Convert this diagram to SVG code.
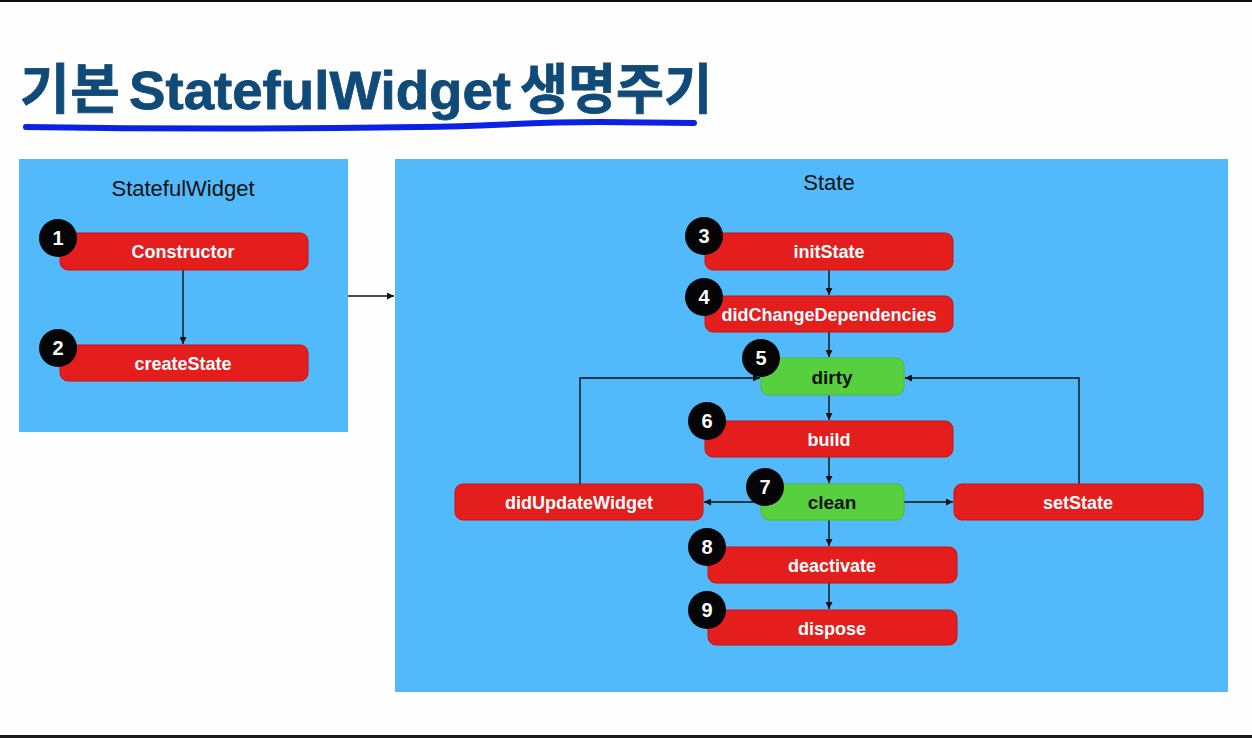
<svg xmlns="http://www.w3.org/2000/svg" width="1252" height="738" viewBox="0 0 1252 738">
<defs>
<style>
.panel{fill:#52b9fa}
.plabel{font-family:"Liberation Sans",Arial,sans-serif;font-size:22px;fill:#111;text-anchor:middle}
.red{fill:#e41d1d;stroke:#c81515;stroke-width:1}
.green{fill:#58cf3e;stroke:#4cb834;stroke-width:1}
.wt{font-family:"Liberation Sans",Arial,sans-serif;font-weight:bold;font-size:18px;fill:#fff;text-anchor:middle}
.bt{font-family:"Liberation Sans",Arial,sans-serif;font-weight:bold;font-size:19px;fill:#111;text-anchor:middle}
.badge{fill:#050505}
.num{font-family:"Liberation Sans",Arial,sans-serif;font-weight:bold;font-size:20px;fill:#fff;text-anchor:middle}
.con{fill:none;stroke:#111;stroke-width:1.4}
.title{font-family:"Liberation Sans","Noto Sans CJK KR",sans-serif;font-weight:bold;font-size:54px;fill:#104a78}
</style>
<marker id="ah" viewBox="0 0 10 10" refX="10" refY="5" markerWidth="7" markerHeight="7" markerUnits="userSpaceOnUse" orient="auto">
<path d="M0,0 L10,5 L0,10 z" fill="#111"/>
</marker>
</defs>
<rect x="0" y="0" width="1252" height="738" fill="#fefefe"/>
<rect x="0" y="0" width="1252" height="2" fill="#111"/>
<rect x="0" y="735" width="1252" height="3" fill="#1a1a1a"/>

<g id="title">
<text class="title" y="109" stroke="#104a78" stroke-width="0.8"><tspan x="20" font-family="'Noto Sans CJK KR',sans-serif" textLength="100">기본</tspan><tspan x="129" textLength="382" lengthAdjust="spacingAndGlyphs">StatefulWidget</tspan><tspan x="520" font-family="'Noto Sans CJK KR',sans-serif" textLength="192" lengthAdjust="spacingAndGlyphs">생명주기</tspan></text>
<path d="M26,127 C150,129 300,129 420,127 C500,126 520,122 600,122 L694,123" fill="none" stroke="#0b22e6" stroke-width="6" stroke-linecap="round"/>
</g>

<g id="panel-statefulwidget">
<rect class="panel" x="19" y="159" width="329" height="273"/>
<text class="plabel" x="183" y="196">StatefulWidget</text>
</g>
<g id="panel-state">
<rect class="panel" x="395" y="159" width="833" height="533"/>
<text class="plabel" x="829" y="190">State</text>
</g>

<g id="connectors">
<line class="con" x1="183" y1="270" x2="183" y2="344" marker-end="url(#ah)"/>
<line class="con" x1="348" y1="296" x2="394" y2="296" marker-end="url(#ah)"/>
<line class="con" x1="829" y1="270" x2="829" y2="295" marker-end="url(#ah)"/>
<line class="con" x1="829" y1="332" x2="829" y2="357" marker-end="url(#ah)"/>
<line class="con" x1="829" y1="395" x2="829" y2="420" marker-end="url(#ah)"/>
<line class="con" x1="829" y1="457" x2="829" y2="483" marker-end="url(#ah)"/>
<line class="con" x1="761" y1="502" x2="704" y2="502" marker-end="url(#ah)"/>
<line class="con" x1="904" y1="502" x2="953" y2="502" marker-end="url(#ah)"/>
<polyline class="con" points="580,484 580,378 760,378" marker-end="url(#ah)"/>
<polyline class="con" points="1079,484 1079,378 905,378" marker-end="url(#ah)"/>
<line class="con" x1="829" y1="520" x2="829" y2="546" marker-end="url(#ah)"/>
<line class="con" x1="829" y1="583" x2="829" y2="609" marker-end="url(#ah)"/>
</g>

<g id="node-constructor">
<rect class="red" x="60" y="233" width="248" height="37" rx="8"/>
<text class="wt" x="183" y="258">Constructor</text>
<circle class="badge" cx="58" cy="238" r="19"/><text class="num" x="58" y="245">1</text>
</g>
<g id="node-createstate">
<rect class="red" x="60" y="345" width="248" height="36" rx="8"/>
<text class="wt" x="183" y="370">createState</text>
<circle class="badge" cx="58" cy="348" r="19"/><text class="num" x="58" y="355">2</text>
</g>
<g id="node-initstate">
<rect class="red" x="705" y="233" width="248" height="37" rx="8"/>
<text class="wt" x="829" y="258">initState</text>
<circle class="badge" cx="704" cy="236" r="19"/><text class="num" x="704" y="243">3</text>
</g>
<g id="node-didchangedependencies">
<rect class="red" x="705" y="296" width="248" height="36" rx="8"/>
<text class="wt" x="829" y="321">didChangeDependencies</text>
<circle class="badge" cx="704" cy="297" r="19"/><text class="num" x="704" y="304">4</text>
</g>
<g id="node-dirty">
<rect class="green" x="761" y="358" width="143" height="37" rx="8"/>
<text class="bt" x="832" y="384">dirty</text>
<circle class="badge" cx="761" cy="358" r="19"/><text class="num" x="761" y="365">5</text>
</g>
<g id="node-build">
<rect class="red" x="705" y="421" width="248" height="36" rx="8"/>
<text class="wt" x="829" y="446">build</text>
<circle class="badge" cx="707" cy="421" r="19"/><text class="num" x="707" y="428">6</text>
</g>
<g id="node-clean">
<rect class="green" x="761" y="484" width="143" height="36" rx="8"/>
<text class="bt" x="832" y="509">clean</text>
<circle class="badge" cx="765" cy="487" r="19"/><text class="num" x="765" y="494">7</text>
</g>
<g id="node-didupdatewidget">
<rect class="red" x="455" y="484" width="248" height="36" rx="8"/>
<text class="wt" x="579" y="509">didUpdateWidget</text>
</g>
<g id="node-setstate">
<rect class="red" x="954" y="484" width="249" height="36" rx="8"/>
<text class="wt" x="1078" y="509">setState</text>
</g>
<g id="node-deactivate">
<rect class="red" x="708" y="547" width="249" height="36" rx="8"/>
<text class="wt" x="832" y="572">deactivate</text>
<circle class="badge" cx="707" cy="547" r="19"/><text class="num" x="707" y="554">8</text>
</g>
<g id="node-dispose">
<rect class="red" x="708" y="610" width="249" height="35" rx="8"/>
<text class="wt" x="832" y="635">dispose</text>
<circle class="badge" cx="707" cy="610" r="19"/><text class="num" x="707" y="617">9</text>
</g>
</svg>
